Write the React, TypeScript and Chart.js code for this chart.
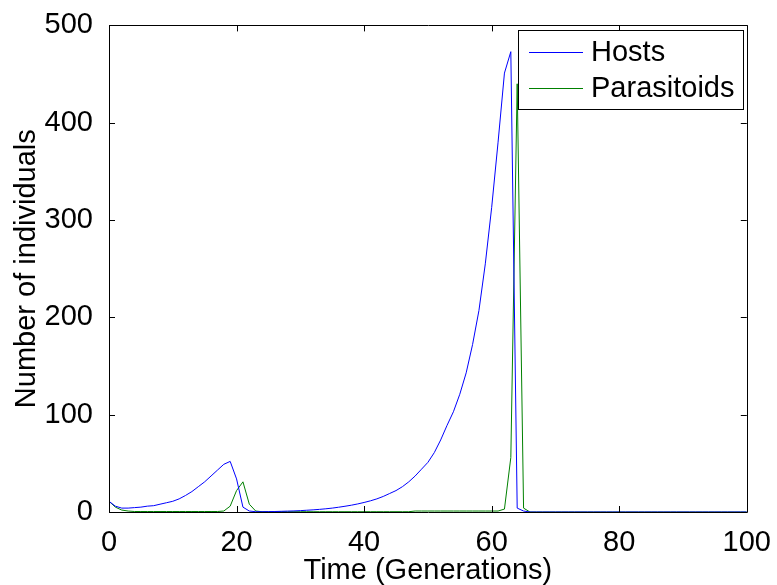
import React, { useEffect, useRef } from "react";
import { Chart, registerables } from "chart.js";

Chart.register(...registerables);

const generations: number[] = [
  0, 1, 2, 3, 4, 5, 6, 7, 8, 9, 10, 11, 12, 13, 14, 15, 16, 17, 18, 19, 20,
  21, 22, 23, 24, 25, 26, 27, 28, 29, 30, 31, 32, 33, 34, 35, 36, 37, 38, 39, 40,
  41, 42, 43, 44, 45, 46, 47, 48, 49, 50, 51, 52, 53, 54, 55, 56, 57, 58, 59, 60,
  61, 62, 63, 64, 65, 66, 67, 68, 69, 70, 71, 72, 73, 74, 75, 76, 77, 78, 79, 80,
  81, 82, 83, 84, 85, 86, 87, 88, 89, 90, 91, 92, 93, 94, 95, 96, 97, 98, 99, 100,
];

const hosts: number[] = [
  11, 6, 4, 4, 4.5, 5, 6, 6.5, 8, 9.5, 11, 13.5, 17, 21, 26, 31, 37, 43, 49, 52, 34,
  5, 1, 0.3, 0.3, 0.4, 0.5, 0.7, 0.9, 1.1, 1.4, 1.8, 2.2, 2.7, 3.3, 4, 4.9, 5.9, 7, 8.3, 9.8,
  11.5, 13.5, 16, 19, 22, 26, 31, 37, 44, 51, 61, 74, 89, 103, 121, 143, 172, 207, 255, 313,
  380, 451, 473, 4, 1, 0, 0, 0, 0, 0, 0, 0, 0, 0, 0, 0, 0, 0, 0, 0,
  0, 0, 0, 0, 0, 0, 0, 0, 0, 0, 0, 0, 0, 0, 0, 0, 0, 0, 0, 0,
];

const parasitoids: number[] = [
  11, 5, 2, 1, 0.5, 0.5, 0.5, 0.5, 0.5, 0.5, 0.5, 0.5, 0.5, 0.5, 0.5, 0.5, 0.5, 0.5, 1, 6, 22,
  31, 8, 1, 0.3, 0.3, 0.3, 0.3, 0.3, 0.3, 0.3, 0.3, 0.3, 0.3, 0.3, 0.3, 0.3, 0.3, 0.3, 0.3, 0.3,
  0.3, 0.3, 0.3, 0.3, 0.3, 0.3, 0.3, 1, 1, 1, 1, 1, 1, 1, 1, 1, 1, 1, 1, 1,
  1, 3, 56, 440, 4, 0, 0, 0, 0, 0, 0, 0, 0, 0, 0, 0, 0, 0, 0, 0,
  0, 0, 0, 0, 0, 0, 0, 0, 0, 0, 0, 0, 0, 0, 0, 0, 0, 0, 0, 0,
];

const seriesNames = ["Hosts", "Parasitoids"];
const seriesColors = ["#0000ff", "#008000"];
const xTicks = [0, 20, 40, 60, 80, 100];
const yTicks = [0, 100, 200, 300, 400, 500];
const xTitle = "Time (Generations)";
const yTitle = "Number of individuals";

const FONT = "'Liberation Sans', Arial, Helvetica, sans-serif";
const FS = 29;

const boxPlugin = {
  id: "matlabBox",
  afterDatasetsDraw(chart: any) {
    const { ctx, chartArea } = chart;
    const { left, right, top, bottom } = chartArea;
    const xs = chart.scales.x;
    const ys = chart.scales.y;
    ctx.save();
    ctx.strokeStyle = "#000";
    ctx.lineWidth = 1;
    ctx.beginPath();
    ctx.rect(Math.round(left) + 0.5, Math.round(top) + 0.5, Math.round(right - left), Math.round(bottom - top));
    ctx.stroke();
    const tl = 6;
    ctx.beginPath();
    xTicks.forEach((v) => {
      const px = Math.round(xs.getPixelForValue(v)) + 0.5;
      ctx.moveTo(px, bottom);
      ctx.lineTo(px, bottom - tl);
      ctx.moveTo(px, top);
      ctx.lineTo(px, top + tl);
    });
    yTicks.forEach((v) => {
      const py = Math.round(ys.getPixelForValue(v)) + 0.5;
      ctx.moveTo(left, py);
      ctx.lineTo(left + tl, py);
      ctx.moveTo(right, py);
      ctx.lineTo(right - tl, py);
    });
    ctx.stroke();

    // legend
    const lx = 518.5, ly = 30.5, lw = 225, lh = 79;
    ctx.fillStyle = "#fff";
    ctx.fillRect(lx, ly, lw, lh);
    ctx.strokeStyle = "#000";
    ctx.strokeRect(lx, ly, lw, lh);
    const rows = [52, 88];
    ctx.font = `${FS}px ${FONT}`;
    ctx.textBaseline = "middle";
    ctx.textAlign = "left";
    seriesNames.forEach((name, i) => {
      ctx.strokeStyle = seriesColors[i];
      ctx.beginPath();
      ctx.moveTo(529, rows[i] + 0.5);
      ctx.lineTo(583, rows[i] + 0.5);
      ctx.stroke();
      ctx.fillStyle = "#000";
      ctx.fillText(name, 591, rows[i] + 1);
    });
    ctx.restore();
  },
};

export default function App() {
  const ref = useRef<HTMLCanvasElement>(null);
  useEffect(() => {
    if (!ref.current) return;
    const chart = new Chart(ref.current, {
      type: "line",
      data: {
        datasets: [
          {
            label: seriesNames[0],
            data: generations.map((g, i) => ({ x: g, y: hosts[i] })),
            borderColor: seriesColors[0],
            borderWidth: 1,
            pointRadius: 0,
            fill: false,
            tension: 0,
          },
          {
            label: seriesNames[1],
            data: generations.map((g, i) => ({ x: g, y: parasitoids[i] })),
            borderColor: seriesColors[1],
            borderWidth: 1,
            pointRadius: 0,
            fill: false,
            tension: 0,
          },
        ],
      },
      options: {
        animation: false,
        responsive: false,
        devicePixelRatio: 1,
        layout: { padding: { top: 21, right: 26, left: 0, bottom: 0 } },
        plugins: { legend: { display: false }, tooltip: { enabled: false } },
        scales: {
          x: {
            type: "linear",
            min: 0,
            max: 100,
            afterFit: (s: any) => { s.height = 73; },
            afterBuildTicks: (s: any) => { s.ticks = xTicks.map((v) => ({ value: v })); },
            grid: { display: false },
            border: { display: false },
            ticks: { font: { size: FS, family: FONT }, color: "#000", padding: 6, maxRotation: 0 },
            title: {
              display: true,
              text: xTitle,
              color: "#000",
              font: { size: FS, family: FONT, lineHeight: 1 },
              padding: { top: 0, bottom: 0 },
            },
          },
          y: {
            type: "linear",
            min: 0,
            max: 500,
            afterFit: (s: any) => { s.width = 109; },
            afterBuildTicks: (s: any) => { s.ticks = yTicks.map((v) => ({ value: v })); },
            grid: { display: false },
            border: { display: false },
            ticks: { font: { size: FS, family: FONT }, color: "#000", padding: 8 },
            title: {
              display: true,
              text: yTitle,
              color: "#000",
              font: { size: FS, family: FONT, lineHeight: 1 },
              padding: { top: 12, bottom: 0 },
            },
          },
        },
      },
      plugins: [boxPlugin],
    });
    return () => chart.destroy();
  }, []);
  return (
    <div style={{ position: "fixed", left: 0, top: 0, width: 777, height: 585, background: "#fff" }}>
      <canvas ref={ref} width={777} height={585} style={{ display: "block" }} />
    </div>
  );
}
